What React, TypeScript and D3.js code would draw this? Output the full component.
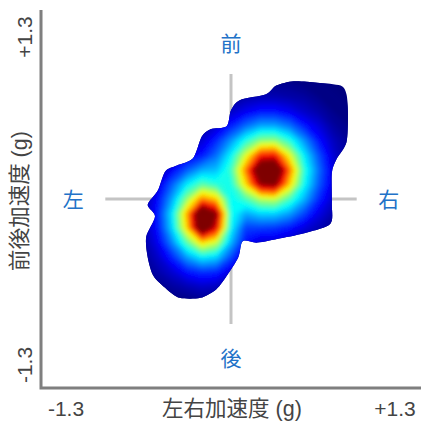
import React from "react";
import * as d3 from "d3";

const WIDTH = 428;
const HEIGHT = 428;
const FONT = "'Liberation Sans', 'Noto Sans CJK JP', sans-serif";

const axisMin = -1.3;
const axisMax = 1.3;
const crossReach = 0.86;

const xTitle = "左右加速度 (g)";
const yTitle = "前後加速度 (g)";
const tickMinLabel = "-1.3";
const tickMaxLabel = "+1.3";

// density readings on a 0.1 g grid (percent of the colour range), top row first
const gridX = [-0.7, -0.6, -0.5, -0.4, -0.3, -0.2, -0.1, 0, 0.1, 0.2, 0.3, 0.4, 0.5, 0.6, 0.7, 0.8, 0.9];
const gridY = [0.9, 0.8, 0.7, 0.6, 0.5, 0.4, 0.3, 0.2, 0.1, 0, -0.1, -0.2, -0.3, -0.4, -0.5, -0.6, -0.7, -0.8];
const density = [
  0, 0, 0, 0, 0, 0, 0, 0, 1, 1, 1, 1, 1, 1, 0, 0, 0,
  0, 0, 0, 0, 0, 0, 1, 1, 2, 2, 2, 2, 1, 1, 0, 0, 0,
  0, 0, 0, 0, 0, 1, 2, 3, 5, 6, 6, 5, 4, 2, 1, 0, 0,
  0, 0, 0, 0, 1, 2, 4, 8, 12, 15, 15, 12, 8, 5, 2, 1, 0,
  0, 0, 0, 1, 2, 4, 9, 16, 24, 30, 30, 25, 16, 10, 4, 2, 0,
  0, 0, 1, 2, 5, 9, 17, 28, 41, 52, 53, 42, 28, 15, 7, 3, 1,
  0, 1, 3, 6, 11, 15, 24, 38, 60, 86, 88, 62, 37, 21, 9, 3, 1,
  0, 2, 5, 13, 22, 30, 32, 44, 76, 116, 120, 78, 42, 24, 10, 4, 1,
  1, 3, 10, 23, 37, 47, 42, 40, 66, 98, 102, 68, 39, 22, 10, 4, 1,
  1, 4, 14, 30, 53, 76, 68, 38, 45, 56, 58, 45, 31, 17, 8, 3, 1,
  1, 5, 16, 37, 72, 120, 100, 40, 30, 34, 34, 29, 20, 11, 5, 2, 0,
  1, 5, 15, 35, 68, 116, 90, 38, 19, 19, 18, 15, 10, 6, 3, 1, 0,
  1, 4, 12, 27, 47, 67, 58, 31, 14, 9, 9, 7, 4, 2, 1, 0, 0,
  0, 3, 8, 17, 29, 37, 34, 20, 8, 3, 3, 2, 1, 1, 0, 0, 0,
  0, 2, 5, 9, 15, 18, 17, 10, 4, 1, 1, 0, 0, 0, 0, 0, 0,
  0, 1, 2, 4, 6, 8, 7, 4, 1, 0, 0, 0, 0, 0, 0, 0, 0,
  0, 0, 0, 1, 1, 2, 2, 1, 0, 0, 0, 0, 0, 0, 0, 0, 0,
  0, 0, 0, 0, 0, 0, 0, 0, 0, 0, 0, 0, 0, 0, 0, 0, 0,
];

// edge of the recorded area, in g
const edgeX = [0.06, 0.24, 0.31, 0.43, 0.59, 0.75, 0.79, 0.8, 0.79, 0.72, 0.69, 0.69, 0.68, 0.52, 0.34, 0.18, 0.08, 0.05, -0.03, -0.1, -0.21, -0.35, -0.44, -0.53, -0.57, -0.58, -0.52, -0.57, -0.5, -0.45, -0.37, -0.26, -0.2, -0.14, -0.03, 0];
const edgeY = [0.68, 0.72, 0.78, 0.81, 0.8, 0.78, 0.72, 0.59, 0.39, 0.27, 0.18, -0.03, -0.17, -0.23, -0.27, -0.3, -0.29, -0.4, -0.53, -0.62, -0.68, -0.68, -0.62, -0.53, -0.4, -0.26, -0.12, -0.04, 0.06, 0.19, 0.23, 0.28, 0.43, 0.48, 0.5, 0.61];

const jetStops = [0, 0.125, 0.375, 0.625, 0.875, 1];
const jetColors = ["#00007f", "#0000ff", "#00ffff", "#ffff00", "#ff0000", "#7f0000"];

const directions = [
  { label: "前", gx: 0, gy: 1.07 },
  { label: "後", gx: 0, gy: -1.1 },
  { label: "左", gx: -1.08, gy: 0 },
  { label: "右", gx: 1.08, gy: 0 },
];

const x = d3.scaleLinear().domain([axisMin, axisMax]).range([41, 421]);
const y = d3.scaleLinear().domain([axisMin, axisMax]).range([388, 10]);
const color = d3.scaleLinear<string>().domain(jetStops).range(jetColors).clamp(true);

// d3.contours puts sample i at i + 0.5
const gridToPxX = d3
  .scaleLinear()
  .domain([0.5, gridX.length - 0.5])
  .range([x(gridX[0]), x(gridX[gridX.length - 1])]);
const gridToPxY = d3
  .scaleLinear()
  .domain([0.5, gridY.length - 0.5])
  .range([y(gridY[0]), y(gridY[gridY.length - 1])]);

const levels = d3.range(0.5, 130, 1.5);
const bands = d3
  .contours()
  .size([gridX.length, gridY.length])
  .smooth(true)
  .thresholds(levels)(density);

const bandPath = d3.geoPath(
  d3.geoTransform({
    point(px: number, py: number) {
      (this as any).stream.point(gridToPxX(px), gridToPxY(py));
    },
  })
);

const edgePath = d3
  .line<number>()
  .x((d) => x(edgeX[d]))
  .y((d) => y(edgeY[d]))
  .curve(d3.curveCardinalClosed.tension(0.2))(d3.range(edgeX.length));

const App = () => {
  const labelInk = "#444444";
  const tickSize = 21;
  return (
    <svg
      width={WIDTH}
      height={HEIGHT}
      style={{ position: "absolute", left: 0, top: 0, background: "#fff" }}
      fontFamily={FONT}
    >
      <defs>
        <clipPath id="edge">
          <path d={edgePath} />
        </clipPath>
        <filter id="soft" x="-10%" y="-10%" width="120%" height="120%">
          <feGaussianBlur stdDeviation={2} />
        </filter>
        <filter id="edgeSoft" x="-10%" y="-10%" width="120%" height="120%">
          <feGaussianBlur stdDeviation={0.6} />
        </filter>
      </defs>

      <g stroke="#c4c4c4" strokeWidth={3}>
        <line x1={x(-crossReach)} x2={x(crossReach)} y1={y(0)} y2={y(0)} />
        <line x1={x(0)} x2={x(0)} y1={y(crossReach)} y2={y(-crossReach)} />
      </g>

      <g filter="url(#edgeSoft)">
        <g clipPath="url(#edge)">
          <rect x={x(-1)} y={y(1)} width={x(1) - x(-1)} height={y(-1) - y(1)} fill={color(0)} />
          <g filter="url(#soft)">
            {bands.map((b, i) => (
              <path key={i} d={bandPath(b) ?? ""} fill={color(levels[i] / 100)} />
            ))}
          </g>
        </g>
      </g>

      <path
        d={`M${x(axisMin)},${y(axisMax)}V${y(axisMin)}H${x(axisMax)}`}
        fill="none"
        stroke="#7f7f7f"
        strokeWidth={3}
      />

      {directions.map((d) => (
        <text
          key={d.label}
          x={x(d.gx)}
          y={y(d.gy)}
          textAnchor="middle"
          dominantBaseline="central"
          fontSize={21}
          fill="#2272c8"
        >
          {d.label}
        </text>
      ))}

      <g fill={labelInk} fontSize={tickSize}>
        <text x={x(axisMin) + 25} y={416} textAnchor="middle">
          {tickMinLabel}
        </text>
        <text x={x(axisMax) - 26} y={416} textAnchor="middle">
          {tickMaxLabel}
        </text>
        <text x={232} y={416} textAnchor="middle" fontSize={21.5}>
          {xTitle}
        </text>
        <text transform={`translate(32,365) rotate(-90)`} textAnchor="middle">
          {tickMinLabel}
        </text>
        <text transform={`translate(32,37) rotate(-90)`} textAnchor="middle">
          {tickMaxLabel}
        </text>
        <text transform={`translate(27,201) rotate(-90)`} textAnchor="middle" fontSize={21.5}>
          {yTitle}
        </text>
      </g>
    </svg>
  );
};

export default App;
